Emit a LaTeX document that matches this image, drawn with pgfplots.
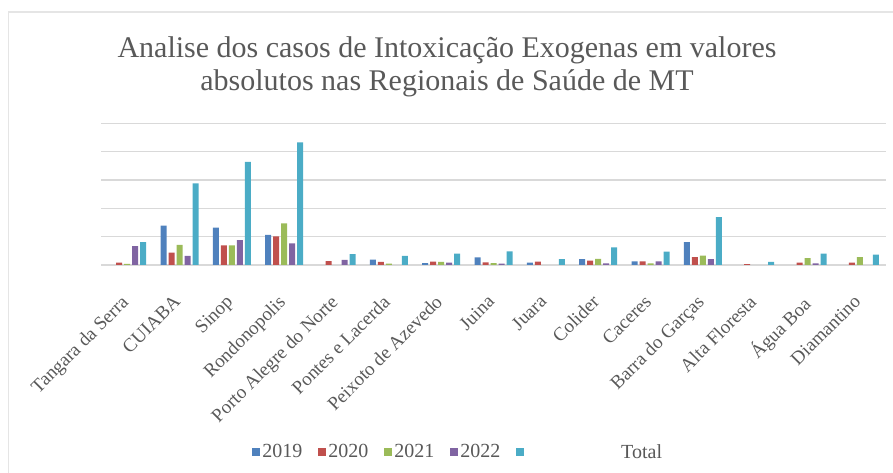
\documentclass[border=0pt]{standalone}
\usepackage{pgfplots}
\pgfplotsset{compat=1.18}
\usepackage{fontspec}
\setmainfont{Liberation Serif}
\definecolor{c19}{HTML}{4F81BD}
\definecolor{c20}{HTML}{C0504D}
\definecolor{c21}{HTML}{9BBB59}
\definecolor{c22}{HTML}{8064A2}
\definecolor{ctot}{HTML}{4BACC6}
\definecolor{txt}{HTML}{595959}
\definecolor{grd}{HTML}{D9D9D9}
\begin{document}
\begin{tikzpicture}
\path[use as bounding box] (0,0) rectangle (893bp,473bp);
\draw[color=gray!20, line width=1.5bp] (8.5bp,0) -- (8.5bp,461bp) -- (893bp,461bp);
\node[text=txt, font=\fontsize{30bp}{33bp}\selectfont, align=center] at (447bp,406bp)
  {Analise dos casos de Intoxicação Exogenas em valores\\absolutos nas Regionais de Saúde de MT};
\begin{axis}[
  at={(101bp,208bp)}, anchor=south west,
  scale only axis, width=785bp, height=141.7bp,
  xmin=-0.5, xmax=14.5, ymin=0, ymax=500,
  ytick={0,100,...,500}, yticklabels={},
  ymajorgrids, grid style={color=grd, line width=1.4bp},
  axis line style={draw=none}, major tick length=0pt,
  xtick={0,...,14},
  xticklabels={Tangara da Serra,CUIABA,Sinop,Rondonopolis,Porto Alegre do Norte,Pontes e Lacerda,Peixoto de Azevedo,Juina,Juara,Colider,Caceres,Barra do Garças,Alta Floresta,Água Boa,Diamantino},
  x tick label style={rotate=45, anchor=north east, font=\fontsize{19bp}{20bp}\selectfont, text=txt, yshift=-12bp, xshift=-22bp},
  ybar, bar width=6bp,
  every axis plot/.append style={draw=none},
  legend columns=5,
  legend style={draw=none, at={(0.455,-1.32)}, anchor=center, font=\fontsize{20bp}{20bp}\selectfont, text=txt,
    /tikz/every even column/.append style={column sep=14bp}},
  legend image code/.code={\fill[#1] (0bp,-4bp) rectangle (8bp,4bp);},
]
\addplot[fill=c19, bar shift=-16bp] coordinates {(0,0) (1,139) (2,132) (3,106) (4,0) (5,19) (6,7) (7,27) (8,8) (9,21) (10,13) (11,81) (12,0) (13,0) (14,0)};
\addplot[fill=c20, bar shift=-8bp] coordinates {(0,8) (1,44) (2,69) (3,101) (4,14) (5,11) (6,12) (7,9) (8,12) (9,15) (10,13) (11,28) (12,3) (13,8) (14,8)};
\addplot[fill=c21, bar shift=0bp] coordinates {(0,4) (1,71) (2,69) (3,147) (4,0) (5,5) (6,11) (7,7) (8,0) (9,22) (10,6) (11,33) (12,0) (13,24) (14,28)};
\addplot[fill=c22, bar shift=8bp] coordinates {(0,67) (1,32) (2,88) (3,76) (4,18) (5,0) (6,8) (7,5) (8,0) (9,6) (10,13) (11,21) (12,0) (13,6) (14,0)};
\addplot[fill=ctot, bar shift=16bp] coordinates {(0,81) (1,288) (2,364) (3,433) (4,38) (5,32) (6,40) (7,48) (8,21) (9,62) (10,47) (11,169) (12,11) (13,40) (14,37)};
\legend{2019,2020,2021,2022,\hspace{95bp}Total}
\end{axis}
\end{tikzpicture}
\end{document}
